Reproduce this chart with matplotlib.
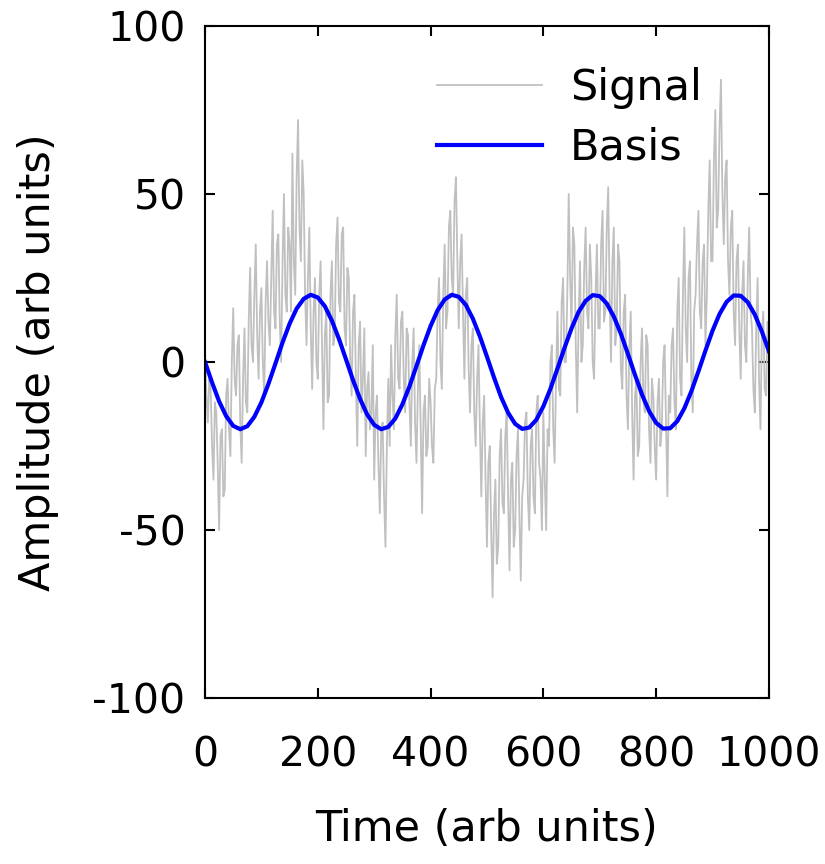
import numpy as np
import matplotlib
matplotlib.use("Agg")
import matplotlib.pyplot as plt

# Noisy measured signal, sampled every 2.5 time units from 0 to 1000
signal = [
    2, -10, -18, -5, -8, -25, -35, -12, -15, -30,
    -50, -22, -20, -40, -38, -10, -5, -20, -28, 0,
    16, -5, -10, 5, 8, -18, -30, -5, 10, -12,
    -15, 12, 28, 5, 0, 20, 35, 8, -5, 15,
    22, 0, -10, 18, 30, 12, 5, 25, 45, 15,
    10, 35, 38, 12, 0, 30, 50, 20, 15, 40,
    35, 15, 62, 30, 20, 55, 72, 40, 30, 60,
    50, 20, 5, 25, 40, 10, -8, 15, 25, 0,
    -5, 20, 30, 5, -20, 8, 15, -12, -10, 20,
    30, 5, 8, 35, 43, 18, 15, 38, 40, 10,
    5, 28, 25, 0, -10, 15, 20, -5, -25, 5,
    12, -15, -5, 10, -28, -8, -3, -20, -15, 5,
    -35, -15, -10, -30, -45, -20, -18, -40, -55, -25,
    -5, -25, 5, -10, -20, 8, 20, -5, -8, 12,
    15, -5, -15, 10, 8, -12, -25, 0, 10, -18,
    -30, -8, 5, -20, -45, -15, -10, -28, -25, -5,
    -12, -25, -30, -8, -5, 15, 25, 0, -8, 20,
    35, 10, 15, 40, 45, 25, 20, 48, 55, 30,
    10, 30, 38, 15, -5, 20, 25, -2, -15, 5,
    10, -15, -25, -5, 5, -20, -40, -18, -10, -35,
    -55, -30, -25, -50, -70, -45, -35, -60, -55, -28,
    -20, -42, -45, -22, -15, -40, -62, -35, -30, -55,
    -50, -28, -20, -45, -65, -40, -35, -18, -15, -40,
    -50, -25, -20, -40, -45, -15, -10, -30, -35, -50,
    -15, -35, -50, -20, -25, 0, 5, -20, -30, -5,
    15, -8, -10, 18, 25, 0, 0, 20, 50, 25,
    10, 40, 35, 5, -15, 12, 30, 0, 5, 28,
    40, 15, 10, 35, 25, 0, -5, 20, 35, 10,
    10, 35, 45, 12, 15, 40, 52, 20, 0, 30,
    40, 5, 10, 35, 30, -2, -8, 15, 20, -10,
    -20, 5, 15, -15, -35, -10, -5, -28, -25, 0,
    10, -12, -15, 8, 5, -20, -30, -5, -10, -25,
    -35, -12, -5, -25, -20, 0, 5, -18, -40, -10,
    -15, 5, 10, -12, -20, 15, 25, -5, -10, 20,
    40, 10, 0, 25, 30, -5, -15, 15, 20, 35,
    45, 15, 10, 30, 35, 5, 20, 45, 60, 30,
    30, 60, 75, 40, 45, 70, 84, 50, 35, 55,
    60, 30, 20, 40, 45, 15, 5, 30, 35, 10,
    -5, 20, 30, 5, 0, 25, 40, 15, 10, -8,
    -15, 10, 25, -5, -20, 8, 15, -8, -10, 12,
    5,
]
signal_time = np.linspace(0, 1000, len(signal))

# Basis waveform, sampled every 12.5 time units
basis = [
    0.0, -6.1, -11.7, -16.1, -19.0, -20.0, -19.1, -16.3, -12.0, -6.5,
    -0.4, 5.8, 11.4, 15.9, 18.8, 20.0, 19.2, 16.6, 12.3, 6.9,
    0.8, -5.4, -11.0, -15.6, -18.7, -20.0, -19.3, -16.8, -12.6, -7.3,
    -1.2, 5.0, 10.7, 15.4, 18.6, 20.0, 19.4, 17.0, 12.9, 7.6,
    1.6, -4.6, -10.4, -15.1, -18.4, -19.9, -19.5, -17.2, -13.2, -8.0,
    -2.0, 4.2, 10.0, 14.9, 18.2, 19.9, 19.6, 17.4, 13.5, 8.4,
    2.4, -3.8, -9.7, -14.6, -18.1, -19.8, -19.7, -17.6, -13.8, -8.7,
    -2.8, 3.4, 9.3, 14.3, 17.9, 19.8, 19.7, 17.8, 14.1, 9.1,
    3.2,
]
basis_time = np.linspace(0, 1000, len(basis))

x_ticks = [0, 200, 400, 600, 800, 1000]
y_ticks = [-100, -50, 0, 50, 100]

plt.rcParams["font.family"] = ["DejaVu Sans"]

fig = plt.figure(figsize=(8.25, 8.64), dpi=100)
ax = fig.add_axes([0.2485, 0.192, 0.6835, 0.778])

ax.plot(signal_time, signal, color="#c0c0c0", lw=1.3, label="Signal")
ax.plot(basis_time, basis, color="#0000ff", lw=3.0, label="Basis",
        solid_joinstyle="round")

ax.set_xlim(0, 1000)
ax.set_ylim(-100, 100)
ax.set_xticks(x_ticks)
ax.set_yticks(y_ticks)
ax.set_xticklabels([str(v) for v in x_ticks])
ax.set_yticklabels([str(v) for v in y_ticks])

for sp in ax.spines.values():
    sp.set_linewidth(1.5)

ax.tick_params(axis="both", which="major", direction="in", length=7,
               width=1.5, labelsize=29.5, top=True, right=True)
ax.tick_params(axis="x", pad=27)
ax.tick_params(axis="y", pad=14)

ax.set_xlabel("Time (arb units)", fontsize=31, labelpad=23)
ax.set_ylabel("Amplitude (arb units)", fontsize=31, labelpad=24)

ax.legend(loc="upper right", bbox_to_anchor=(0.912, 0.965), borderaxespad=0,
          frameon=False, fontsize=31, handlelength=2.45, handletextpad=0.65,
          labelspacing=0.42)

fig.savefig("out.png", dpi=100)
